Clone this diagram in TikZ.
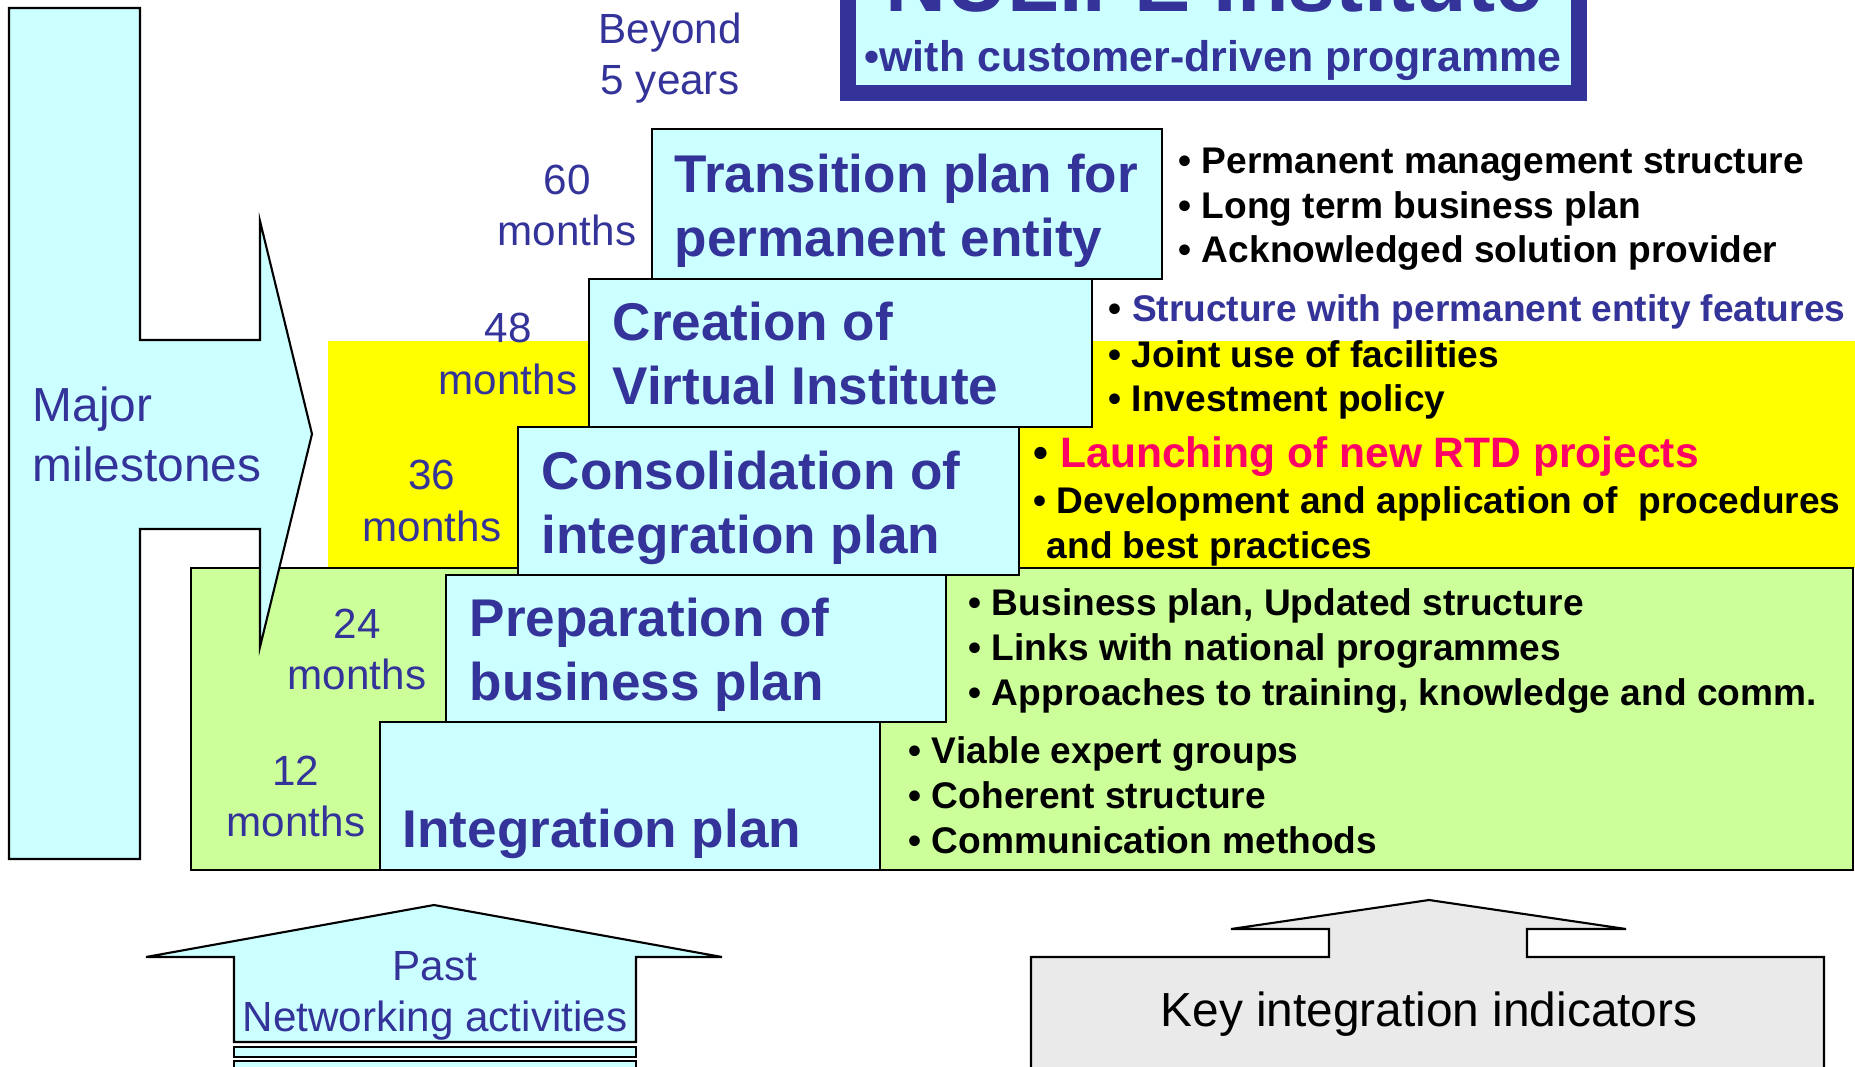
\documentclass[tikz,border=0pt]{standalone}
\usepackage{fontspec}
\setmainfont{Liberation Sans}
\usepackage{tikz}

\definecolor{labelblue}{HTML}{333399}
\definecolor{boxcyan}{HTML}{CCFFFF}
\definecolor{stageyellow}{HTML}{FFFF00}
\definecolor{stagegreen}{HTML}{CCFF99}
\definecolor{rtdpink}{HTML}{FF0066}
\definecolor{kiigray}{HTML}{EAEAEA}

\begin{document}
\begin{tikzpicture}[x=0.01cm, y=-0.01cm,
    stagebox/.style={draw=black, line width=0.75pt, fill=boxcyan},
    stagetext/.style={anchor=base west, inner sep=0pt, text=labelblue,
      font=\fontsize{15.1}{18}\selectfont\bfseries},
    monthtext/.style={anchor=base, inner sep=0pt, text=labelblue,
      font=\fontsize{12}{14}\selectfont},
    itemtext/.style={anchor=base west, inner sep=0pt,
      font=\fontsize{10.55}{12.6}\selectfont\bfseries}]

        \useasboundingbox (0,0) rectangle (1855,1067);

        %Bands
        \fill [stageyellow] (328,341) rectangle (1855,568);
        \draw [line width=0.4pt, fill=stagegreen] (191,568) rectangle (1853,870);

        %Major milestones
        \draw [line width=0.6pt, fill=boxcyan]
          (9,8) -- (140,8) -- (140,340) -- (260,340) -- (260,221) -- (312,434)
          -- (260,647) -- (260,529) -- (140,529) -- (140,859) -- (9,859) -- cycle;
        \node [anchor=base west, inner sep=0pt, text=labelblue,
          font=\fontsize{13.6}{16}\selectfont] (major) at (32,422) {Major};
        \node [anchor=base west, inner sep=0pt, text=labelblue,
          font=\fontsize{13.6}{16}\selectfont] (miles) at (32,481) {milestones};

        %Institute
        \draw [line width=4.3pt, draw=labelblue, fill=boxcyan] (848,-80) rectangle (1579,93);
        \node [anchor=base, inner sep=0pt, text=labelblue,
          font=\fontsize{24}{28}\selectfont\bfseries] (inst) at (1214,12) {NULIFE Institute};
        \node [anchor=base, inner sep=0pt, text=labelblue,
          font=\fontsize{12.2}{14}\selectfont\bfseries] (cust) at (1213,72) {•with customer-driven programme};

        %Stages
        \draw [stagebox] (380,722) rectangle (880,870);   % 12
        \draw [stagebox] (446,575) rectangle (946,722);   % 24
        \draw [stagebox] (518,427) rectangle (1019,575);  % 36
        \draw [stagebox] (589,279) rectangle (1092,427);  % 48
        \draw [stagebox] (652,129) rectangle (1162,279);  % 60
        \node [stagetext] (trans1) at (674,193) {Transition plan for};
        \node [stagetext] (trans2) at (674,257) {permanent entity};
        \node [stagetext] (virt1)  at (612,341) {Creation of};
        \node [stagetext] (virt2)  at (612,405) {Virtual Institute};
        \node [stagetext] (cons1)  at (541,489) {Consolidation of};
        \node [stagetext] (cons2)  at (541,553) {integration plan};
        \node [stagetext] (prep1)  at (469,636) {Preparation of};
        \node [stagetext] (prep2)  at (469,700) {business plan};
        \node [stagetext] (integ)  at (402,847) {Integration plan};

        %Months
        \node [monthtext] (beyond) at (670,44)  {Beyond};
        \node [monthtext] (years)  at (670,95)  {5 years};
        \node [monthtext] (m60a)   at (567,195) {60};
        \node [monthtext] (m60b)   at (567,246) {months};
        \node [monthtext] (m48a)   at (508,343) {48};
        \node [monthtext] (m48b)   at (508,394) {months};
        \node [monthtext] (m36a)   at (432,489) {36};
        \node [monthtext] (m36b)   at (432,541) {months};
        \node [monthtext] (m24a)   at (357,638) {24};
        \node [monthtext] (m24b)   at (357,689) {months};
        \node [monthtext] (m12a)   at (296,785) {12};
        \node [monthtext] (m12b)   at (296,836) {months};

        %Items
        \node [itemtext] (perm1) at (1178,174) {• Permanent management structure};
        \node [itemtext] (perm2) at (1178,219) {• Long term business plan};
        \node [itemtext] (perm3) at (1178,263) {• Acknowledged solution provider};
        \node [itemtext] (virt3) at (1108,322) {• \textcolor{labelblue}{Structure with permanent entity features}};
        \node [itemtext] (virt4) at (1108,367) {• Joint use of facilities};
        \node [itemtext] (virt5) at (1108,411) {• Investment policy};
        \node [itemtext, font=\fontsize{12.1}{14}\selectfont\bfseries]
                         (cons3) at (1033,468) {• \textcolor{rtdpink}{Launching of new RTD projects}};
        \node [itemtext] (cons4) at (1033,513) {• Development and application of\ \ procedures};
        \node [itemtext] (cons5) at (1046,558) {and best practices};
        \node [itemtext] (prep3) at (968,615)  {• Business plan, Updated structure};
        \node [itemtext] (prep4) at (968,660)  {• Links with national programmes};
        \node [itemtext] (prep5) at (968,705)  {• Approaches to training, knowledge and comm.};
        \node [itemtext] (integ1) at (908,763) {• Viable expert groups};
        \node [itemtext] (integ2) at (908,808) {• Coherent structure};
        \node [itemtext] (integ3) at (908,853) {• Communication methods};

        %Past
        \draw [line width=0.6pt, fill=boxcyan]
          (434,905) -- (722,957) -- (636,957) -- (636,1042) -- (234,1042)
          -- (234,957) -- (146,957) -- cycle;
        \draw [line width=0.6pt, fill=boxcyan] (234,1047) rectangle (636,1057);
        \draw [line width=0.6pt, fill=boxcyan] (234,1061) rectangle (636,1090);
        \node [monthtext] (past) at (435,980)  {Past};
        \node [monthtext] (netw) at (435,1031) {Networking activities};

        %Indicators
        \draw [line width=0.6pt, fill=kiigray]
          (1429,900) -- (1626,929) -- (1527,929) -- (1527,957) -- (1824,957)
          -- (1824,1090) -- (1031,1090) -- (1031,957) -- (1329,957)
          -- (1329,929) -- (1231,929) -- cycle;
        \node [anchor=base, inner sep=0pt, font=\fontsize{13.6}{16}\selectfont]
          (kii) at (1429,1026) {Key integration indicators};
\end{tikzpicture}
\end{document}
